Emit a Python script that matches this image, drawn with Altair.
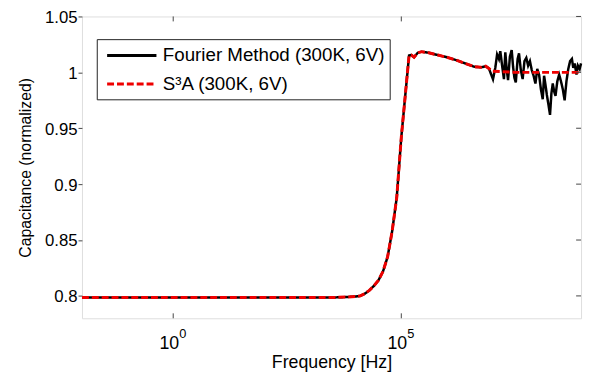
import altair as alt
import pandas as pd

series_names = ["Fourier Method (300K, 6V)", "S³A (300K, 6V)"]

# shared part of both curves (log10 of frequency, normalized capacitance)
main_logf = [-2.0, 1.0, 3.5, 3.8, 4.0, 4.1, 4.2, 4.3, 4.4, 4.5, 4.6, 4.7, 4.8,
             4.9, 5.0, 5.1, 5.17, 5.22, 5.28, 5.36, 5.45, 5.6, 5.8, 6.0, 6.2,
             6.4, 6.6, 6.75, 6.85, 6.92]
main_cap = [0.7985, 0.7985, 0.7986, 0.799, 0.7995, 0.800, 0.802, 0.805, 0.809,
            0.814, 0.822, 0.835, 0.858, 0.888, 0.942, 0.985, 1.015, 1.0155,
            1.0135, 1.0175, 1.0185, 1.0175, 1.0155, 1.0135, 1.011, 1.008,
            1.005, 1.0045, 1.0055, 1.0035]

# noisy high-frequency tail of the Fourier method
fourier_tail_logf = [7.01, 7.06, 7.10, 7.14, 7.17, 7.21, 7.25, 7.28, 7.31, 7.34,
                     7.38, 7.42, 7.45, 7.48, 7.51, 7.55, 7.58, 7.62, 7.66, 7.70,
                     7.74, 7.78, 7.82, 7.86, 7.90, 7.94, 7.98, 8.02, 8.06, 8.10,
                     8.13, 8.16, 8.19, 8.23, 8.26, 8.29, 8.32, 8.35, 8.38, 8.42,
                     8.46, 8.50, 8.54, 8.58, 8.62, 8.66, 8.70, 8.74, 8.77, 8.80,
                     8.84, 8.87, 8.91, 8.94]
fourier_tail_cap = [0.9938, 1.004, 1.016, 1.012, 1.019, 1.006, 0.994, 1.018,
                    1.003, 0.993, 1.014, 1.020, 1.005, 0.995, 0.991, 1.012,
                    1.017, 1.002, 0.994, 1.010, 1.013, 1.006, 1.010, 1.002,
                    0.997, 0.990, 1.003, 0.998, 0.985, 0.976, 0.997, 0.989,
                    0.980, 0.970, 0.962, 0.981, 0.990, 0.983, 0.979, 0.992,
                    0.998, 0.992, 0.985, 0.975, 0.992, 1.003, 1.010, 1.012,
                    1.004, 1.008, 0.998, 1.006, 1.003, 1.008]

# smooth tail of the S3A curve
s3a_tail_logf = [7.0, 7.5, 8.0, 8.5, 8.94]
s3a_tail_cap = [1.001, 1.0, 1.0, 1.0, 1.0]

y_ticks = [0.8, 0.85, 0.9, 0.95, 1.0, 1.05]
x_tick_exps = [0, 5]
x_tick_base = "10"

rows = []
for lf, c in zip(main_logf + fourier_tail_logf, main_cap + fourier_tail_cap):
    rows.append({"f": 10 ** lf, "c": c, "series": series_names[0], "i": len(rows)})
for lf, c in zip(main_logf + s3a_tail_logf, main_cap + s3a_tail_cap):
    rows.append({"f": 10 ** lf, "c": c, "series": series_names[1], "i": len(rows)})
df = pd.DataFrame(rows)

W, H = 506, 306
xscale = alt.Scale(type="log", domain=[10 ** -2.0, 10 ** 8.94], nice=False)
yscale = alt.Scale(domain=[0.78, 1.05], nice=False, zero=False)
FONT = "Liberation Sans"

color = alt.Color("series:N", scale=alt.Scale(domain=series_names, range=["#000000", "#ee0000"]),
                  legend=alt.Legend(orient="none", legendX=15, legendY=23, title=None,
                                    symbolType="M-2.5,0H2.5", symbolSize=400, symbolStrokeWidth=3,
                                    labelFontSize=19, labelFont=FONT, labelColor="#000",
                                    labelLimit=400, labelOffset=20, rowPadding=7,
                                    padding=5, strokeColor="#222", fillColor="#ffffff",
                                    symbolOffset=19))
dash = alt.StrokeDash("series:N", scale=alt.Scale(domain=series_names, range=[[1, 0], [7, 3]]),
                      legend=None)

base = alt.Chart(df)
x_enc = alt.X("f:Q", scale=xscale,
              axis=alt.Axis(values=[1, 100000], labels=False, ticks=False, domain=False,
                            grid=False, title="Frequency [Hz]", titleFont=FONT,
                            titleFontSize=18, titleFontWeight="normal", titleColor="#000",
                            titlePadding=36))
y_enc = alt.Y("c:Q", scale=yscale,
              axis=alt.Axis(values=y_ticks, format=".2~f", grid=False, domain=False,
                            tickSize=4, tickColor="#444", labelPadding=1, labelFont=FONT,
                            labelFontSize=17, labelColor="#000", labelOffset=1,
                            title="Capacitance (normalized)", titleFont=FONT,
                            titleFontSize=16, titleFontWeight="normal", titleColor="#000",
                            titlePadding=11))

black = base.transform_filter(alt.datum.series == series_names[0]).mark_line(strokeWidth=2.5).encode(
    x=x_enc, y=y_enc, color=color, strokeDash=dash, order="i:Q")
red = base.transform_filter(alt.datum.series == series_names[1]).mark_line(strokeWidth=3).encode(
    x=alt.X("f:Q", scale=xscale), y=alt.Y("c:Q", scale=yscale), color=color,
    strokeDash=dash, order="i:Q")

ydf = pd.DataFrame({"t": y_ticks})
right_ticks = alt.Chart(ydf).mark_rule(color="#444", strokeWidth=1).encode(
    y=alt.Y("t:Q", scale=yscale), x=alt.value(W - 5), x2=alt.value(W))

xdf = pd.DataFrame({"e": x_tick_exps, "f": [10.0 ** e for e in x_tick_exps],
                    "base": [x_tick_base] * len(x_tick_exps)})
bottom_ticks = alt.Chart(xdf).mark_rule(color="#444", strokeWidth=1).encode(
    x=alt.X("f:Q", scale=xscale), y=alt.value(H - 5), y2=alt.value(H))
top_ticks = alt.Chart(xdf).mark_rule(color="#444", strokeWidth=1).encode(
    x=alt.X("f:Q", scale=xscale), y=alt.value(0), y2=alt.value(5))
base_text = alt.Chart(xdf).mark_text(font=FONT, fontSize=18, color="#000", align="center",
                                     baseline="alphabetic", dx=-4).encode(
    x=alt.X("f:Q", scale=xscale), y=alt.value(H + 31), text="base:N")
exp_text = alt.Chart(xdf).mark_text(font=FONT, fontSize=13, color="#000", align="left",
                                    baseline="alphabetic", dx=6).encode(
    x=alt.X("f:Q", scale=xscale), y=alt.value(H + 20), text="e:N")

chart = alt.layer(black, red, right_ticks, bottom_ticks, top_ticks, base_text, exp_text).properties(
    width=W, height=H,
    autosize=alt.AutoSizeParams(type="none"),
    padding={"left": 75, "top": 6, "right": 3, "bottom": 60},
).configure_view(stroke="#444", strokeWidth=1).configure(background="#ffffff")

chart.save("out.html", embed_options={"renderer": "svg", "actions": False})
